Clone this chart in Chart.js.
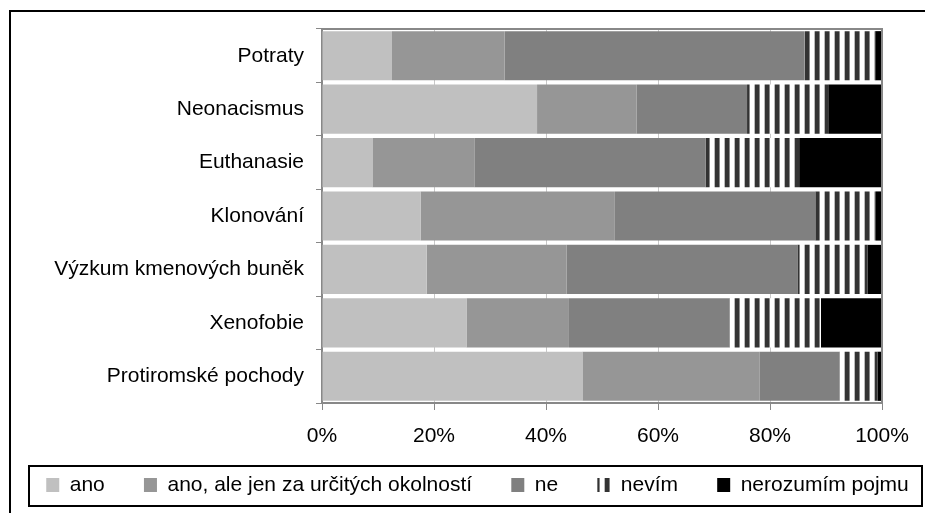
<!DOCTYPE html>
<html>
<head>
<meta charset="utf-8">
<script src="https://cdn.jsdelivr.net/npm/chart.js@4"></script>
<style>
  html, body { margin: 0; padding: 0; background: #fff; }
  canvas { display: block; }
</style>
</head>
<body>
<canvas id="chart" width="925" height="513"></canvas>
<script>
// ---------- Data (percent) ----------
const categories = ["Potraty", "Neonacismus", "Euthanasie", "Klonování",
  "Výzkum kmenových buněk", "Xenofobie", "Protiromské pochody"];
const seriesNames = ["ano", "ano, ale jen za určitých okolností", "ne", "nevím", "nerozumím pojmu"];

const ano       = [12.5, 38.4,  9.0, 17.6, 18.7, 25.8, 46.5];
const anoAle    = [20.1, 17.8, 18.2, 34.7, 25.0, 18.3, 31.6];
const ne        = [53.6, 19.7, 41.3, 35.8, 41.2, 28.7, 14.3];
const nevim     = [12.6, 14.5, 16.7, 10.8, 12.5, 16.3,  6.8];
const nerozumim = [ 1.2,  9.6, 14.8,  1.1,  2.6, 10.9,  0.8];

const xTicks = [0, 20, 40, 60, 80, 100];

// ---------- Stripe pattern for "nevím" ----------
function stripes() {
  const c = document.createElement("canvas");
  c.width = 10; c.height = 10;
  const g = c.getContext("2d");
  g.fillStyle = "#ffffff"; g.fillRect(0, 0, 10, 10);
  g.fillStyle = "#bbbbbb"; g.fillRect(4, 0, 1, 10);
  g.fillStyle = "#333333"; g.fillRect(5, 0, 4, 10);
  g.fillStyle = "#888888"; g.fillRect(9, 0, 1, 10);
  return g.createPattern(c, "repeat");
}

const ctx = document.getElementById("chart").getContext("2d");
const colors = ["#c0c0c0", "#969696", "#808080", stripes(), "#000000"];
const values = [ano, anoAle, ne, nevim, nerozumim];

Chart.defaults.font.family = "'Liberation Sans', Arial, sans-serif";
Chart.defaults.font.size = 21;
Chart.defaults.color = "#000";

// outer frame, plot border and legend box
const frames = {
  id: "frames",
  afterDraw(chart) {
    const c = chart.ctx, a = chart.chartArea, lg = chart.legend;
    c.save();
    c.strokeStyle = "#000"; c.lineWidth = 2;
    c.strokeRect(10, 11, 1000, 1000);
    c.strokeRect(29, Math.round(lg.top) + 1, 893, Math.round(lg.height) - 1);
    c.strokeStyle = "#888"; c.lineWidth = 2;
    c.beginPath();
    c.moveTo(a.left, a.top); c.lineTo(a.right, a.top); c.lineTo(a.right, a.bottom);
    c.stroke();
    c.restore();
  }
};

new Chart(ctx, {
  type: "bar",
  data: {
    labels: categories,
    datasets: seriesNames.map((name, i) => ({
      label: name,
      data: values[i],
      backgroundColor: colors[i],
      borderWidth: 0,
      barPercentage: 0.92,
      categoryPercentage: 1
    }))
  },
  options: {
    indexAxis: "y",
    responsive: false,
    animation: false,
    devicePixelRatio: 1,
    layout: { padding: { left: 30, right: 0, top: 29, bottom: 7.5 } },
    plugins: {
      tooltip: { enabled: false },
      legend: {
        position: "bottom",
        labels: {
          boxWidth: 13, boxHeight: 14, padding: 10, color: "#000",
          generateLabels: chart => Chart.defaults.plugins.legend.labels.generateLabels(chart)
            .map((item, i, all) => ({ ...item, text: i < all.length - 1 ? item.text + "     " : item.text }))
        }
      }
    },
    scales: {
      x: {
        stacked: true,
        min: 0, max: 100,
        afterFit: s => { s.height = 61.5; },
        afterBuildTicks: s => { s.ticks = xTicks.map(v => ({ value: v })); },
        ticks: { callback: v => v + "%", padding: 14, color: "#000" },
        grid: { color: "#c8c8c8", tickColor: "#888", tickLength: 7 },
        border: { color: "#888", width: 2 }
      },
      y: {
        stacked: true,
        afterFit: s => { s.width = 292; },
        ticks: { padding: 12, color: "#000" },
        grid: { drawOnChartArea: false, offset: true, color: "#888", tickLength: 6 },
        border: { color: "#888", width: 2 }
      },
      y2: {
        type: "category",
        position: "right",
        afterFit: s => { s.width = 43; },
        ticks: { display: false },
        grid: { display: false },
        border: { display: false }
      }
    }
  },
  plugins: [frames]
});
</script>
</body>
</html>
